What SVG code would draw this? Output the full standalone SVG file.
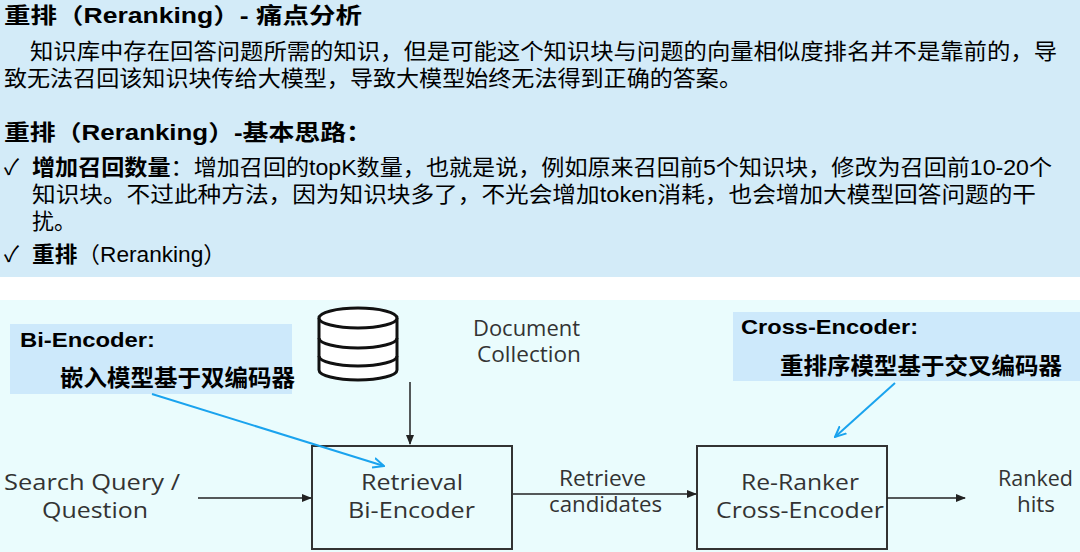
<svg xmlns="http://www.w3.org/2000/svg" width="1080" height="552" viewBox="0 0 1080 552">
<style>
.cn{font-family:"Liberation Sans","Noto Sans CJK SC",sans-serif;fill:#000}
.b{font-weight:bold}
.d{font-family:"Open Sans","DejaVu Sans",sans-serif;fill:#333;font-size:21px}
.box{fill:none;stroke:#333;stroke-width:2}
.ln{stroke:#222;stroke-width:1.5;fill:none}
.bl{stroke:#1aa3ee;stroke-width:2;fill:none}
</style>
<defs>
<marker id="ah" markerWidth="10" markerHeight="10" refX="9" refY="5" orient="auto" markerUnits="userSpaceOnUse"><path d="M0,1 L10,5 L0,9 z" fill="#222"/></marker>
<marker id="bh" markerWidth="12" markerHeight="12" refX="11" refY="6" orient="auto" markerUnits="userSpaceOnUse"><path d="M0,1 L11,6 L0,11" fill="none" stroke="#1aa3ee" stroke-width="2"/></marker>
</defs>
<rect width="1080" height="552" fill="#fff"/>
<rect x="0" y="0" width="1080" height="277" fill="#d3ebf8"/>
<rect x="0" y="300" width="1080" height="252" fill="#eafcfd"/>
<g id="text-top">
<text class="cn b" x="4" y="23" font-size="22" textLength="358" lengthAdjust="spacingAndGlyphs">重排（Reranking）- 痛点分析</text>
<text class="cn" x="30" y="59" font-size="22" textLength="1027" lengthAdjust="spacingAndGlyphs">知识库中存在回答问题所需的知识，但是可能这个知识块与问题的向量相似度排名并不是靠前的，导</text>
<text class="cn" x="4" y="86" font-size="22" textLength="738" lengthAdjust="spacingAndGlyphs">致无法召回该知识块传给大模型，导致大模型始终无法得到正确的答案。</text>
<text class="cn b" x="4" y="140" font-size="22" textLength="368" lengthAdjust="spacingAndGlyphs">重排（Reranking）-基本思路：</text>
<text class="cn" x="4" y="175" font-size="22">✓</text>
<text class="cn" x="32" y="175" font-size="22" textLength="1020" lengthAdjust="spacingAndGlyphs"><tspan class="b">增加召回数量</tspan>：增加召回的topK数量，也就是说，例如原来召回前5个知识块，修改为召回前10-20个</text>
<text class="cn" x="32" y="202" font-size="22" textLength="1004" lengthAdjust="spacingAndGlyphs">知识块。不过此种方法，因为知识块多了，不光会增加token消耗，也会增加大模型回答问题的干</text>
<text class="cn" x="32" y="229" font-size="22">扰。</text>
<text class="cn" x="4" y="262" font-size="22">✓</text>
<text class="cn" x="32" y="262" font-size="22" textLength="194" lengthAdjust="spacingAndGlyphs"><tspan class="b">重排</tspan>（Reranking）</text>
</g>
<g id="bi-note">
<rect x="10" y="324" width="282" height="70" fill="#cde9fb"/>
<text class="cn b" x="20" y="347" font-size="21" textLength="135" lengthAdjust="spacingAndGlyphs">Bi-Encoder:</text>
<text class="cn b" x="60" y="386" font-size="23" textLength="235" lengthAdjust="spacingAndGlyphs">嵌入模型基于双编码器</text>
</g>
<g id="cross-note">
<rect x="733" y="312" width="347" height="69" fill="#cde9fb"/>
<text class="cn b" x="741" y="334" font-size="21" textLength="177" lengthAdjust="spacingAndGlyphs">Cross-Encoder:</text>
<text class="cn b" x="780" y="374" font-size="23" textLength="282" lengthAdjust="spacingAndGlyphs">重排序模型基于交叉编码器</text>
</g>
<g id="doc">
<path d="M319,318 v52 a39,10 0 0 0 78,0 v-52" fill="#fff" stroke="#111" stroke-width="3"/>
<ellipse cx="358" cy="318" rx="39" ry="10" fill="#fff" stroke="#111" stroke-width="3"/>
<path d="M319,338 a39,10 0 0 0 78,0 M319,356 a39,10 0 0 0 78,0" fill="none" stroke="#111" stroke-width="3"/>
<text class="d" x="473" y="336" font-size="18" textLength="107" lengthAdjust="spacingAndGlyphs">Document</text>
<text class="d" x="477" y="362" font-size="18" textLength="104" lengthAdjust="spacingAndGlyphs">Collection</text>
</g>
<g id="query"><text class="d" x="4" y="490" textLength="176" lengthAdjust="spacingAndGlyphs">Search Query /</text><text class="d" x="42" y="518" textLength="106" lengthAdjust="spacingAndGlyphs">Question</text></g>
<g id="retrieval">
<rect class="box" x="312" y="446" width="200" height="103"/>
<text class="d" x="361" y="490" textLength="102" lengthAdjust="spacingAndGlyphs">Retrieval</text>
<text class="d" x="348" y="518" textLength="127" lengthAdjust="spacingAndGlyphs">Bi-Encoder</text>
</g>
<g id="reranker">
<rect class="box" x="697" y="446" width="190" height="103"/>
<text class="d" x="741" y="490" textLength="118" lengthAdjust="spacingAndGlyphs">Re-Ranker</text>
<text class="d" x="716" y="518" textLength="168" lengthAdjust="spacingAndGlyphs">Cross-Encoder</text>
</g>
<g id="hits"><text class="d" x="998" y="486" font-size="18" textLength="75" lengthAdjust="spacingAndGlyphs">Ranked</text><text class="d" x="1017" y="512" font-size="18" textLength="38" lengthAdjust="spacingAndGlyphs">hits</text></g>
<g id="connectors">
<line class="ln" x1="410" y1="382" x2="410" y2="444" marker-end="url(#ah)"/>
<line class="ln" x1="198" y1="498" x2="311" y2="498" marker-end="url(#ah)"/>
<line class="ln" x1="513" y1="494" x2="696" y2="494" marker-end="url(#ah)"/>
<line class="ln" x1="887" y1="498" x2="965" y2="498" marker-end="url(#ah)"/>
<text class="d" x="559" y="486" font-size="18" textLength="87" lengthAdjust="spacingAndGlyphs">Retrieve</text>
<text class="d" x="549" y="512" font-size="18" textLength="113" lengthAdjust="spacingAndGlyphs">candidates</text>
<line class="bl" x1="152" y1="394" x2="384" y2="466" marker-end="url(#bh)"/>
<line class="bl" x1="895" y1="383" x2="835" y2="437" marker-end="url(#bh)"/>
</g>
</svg>
